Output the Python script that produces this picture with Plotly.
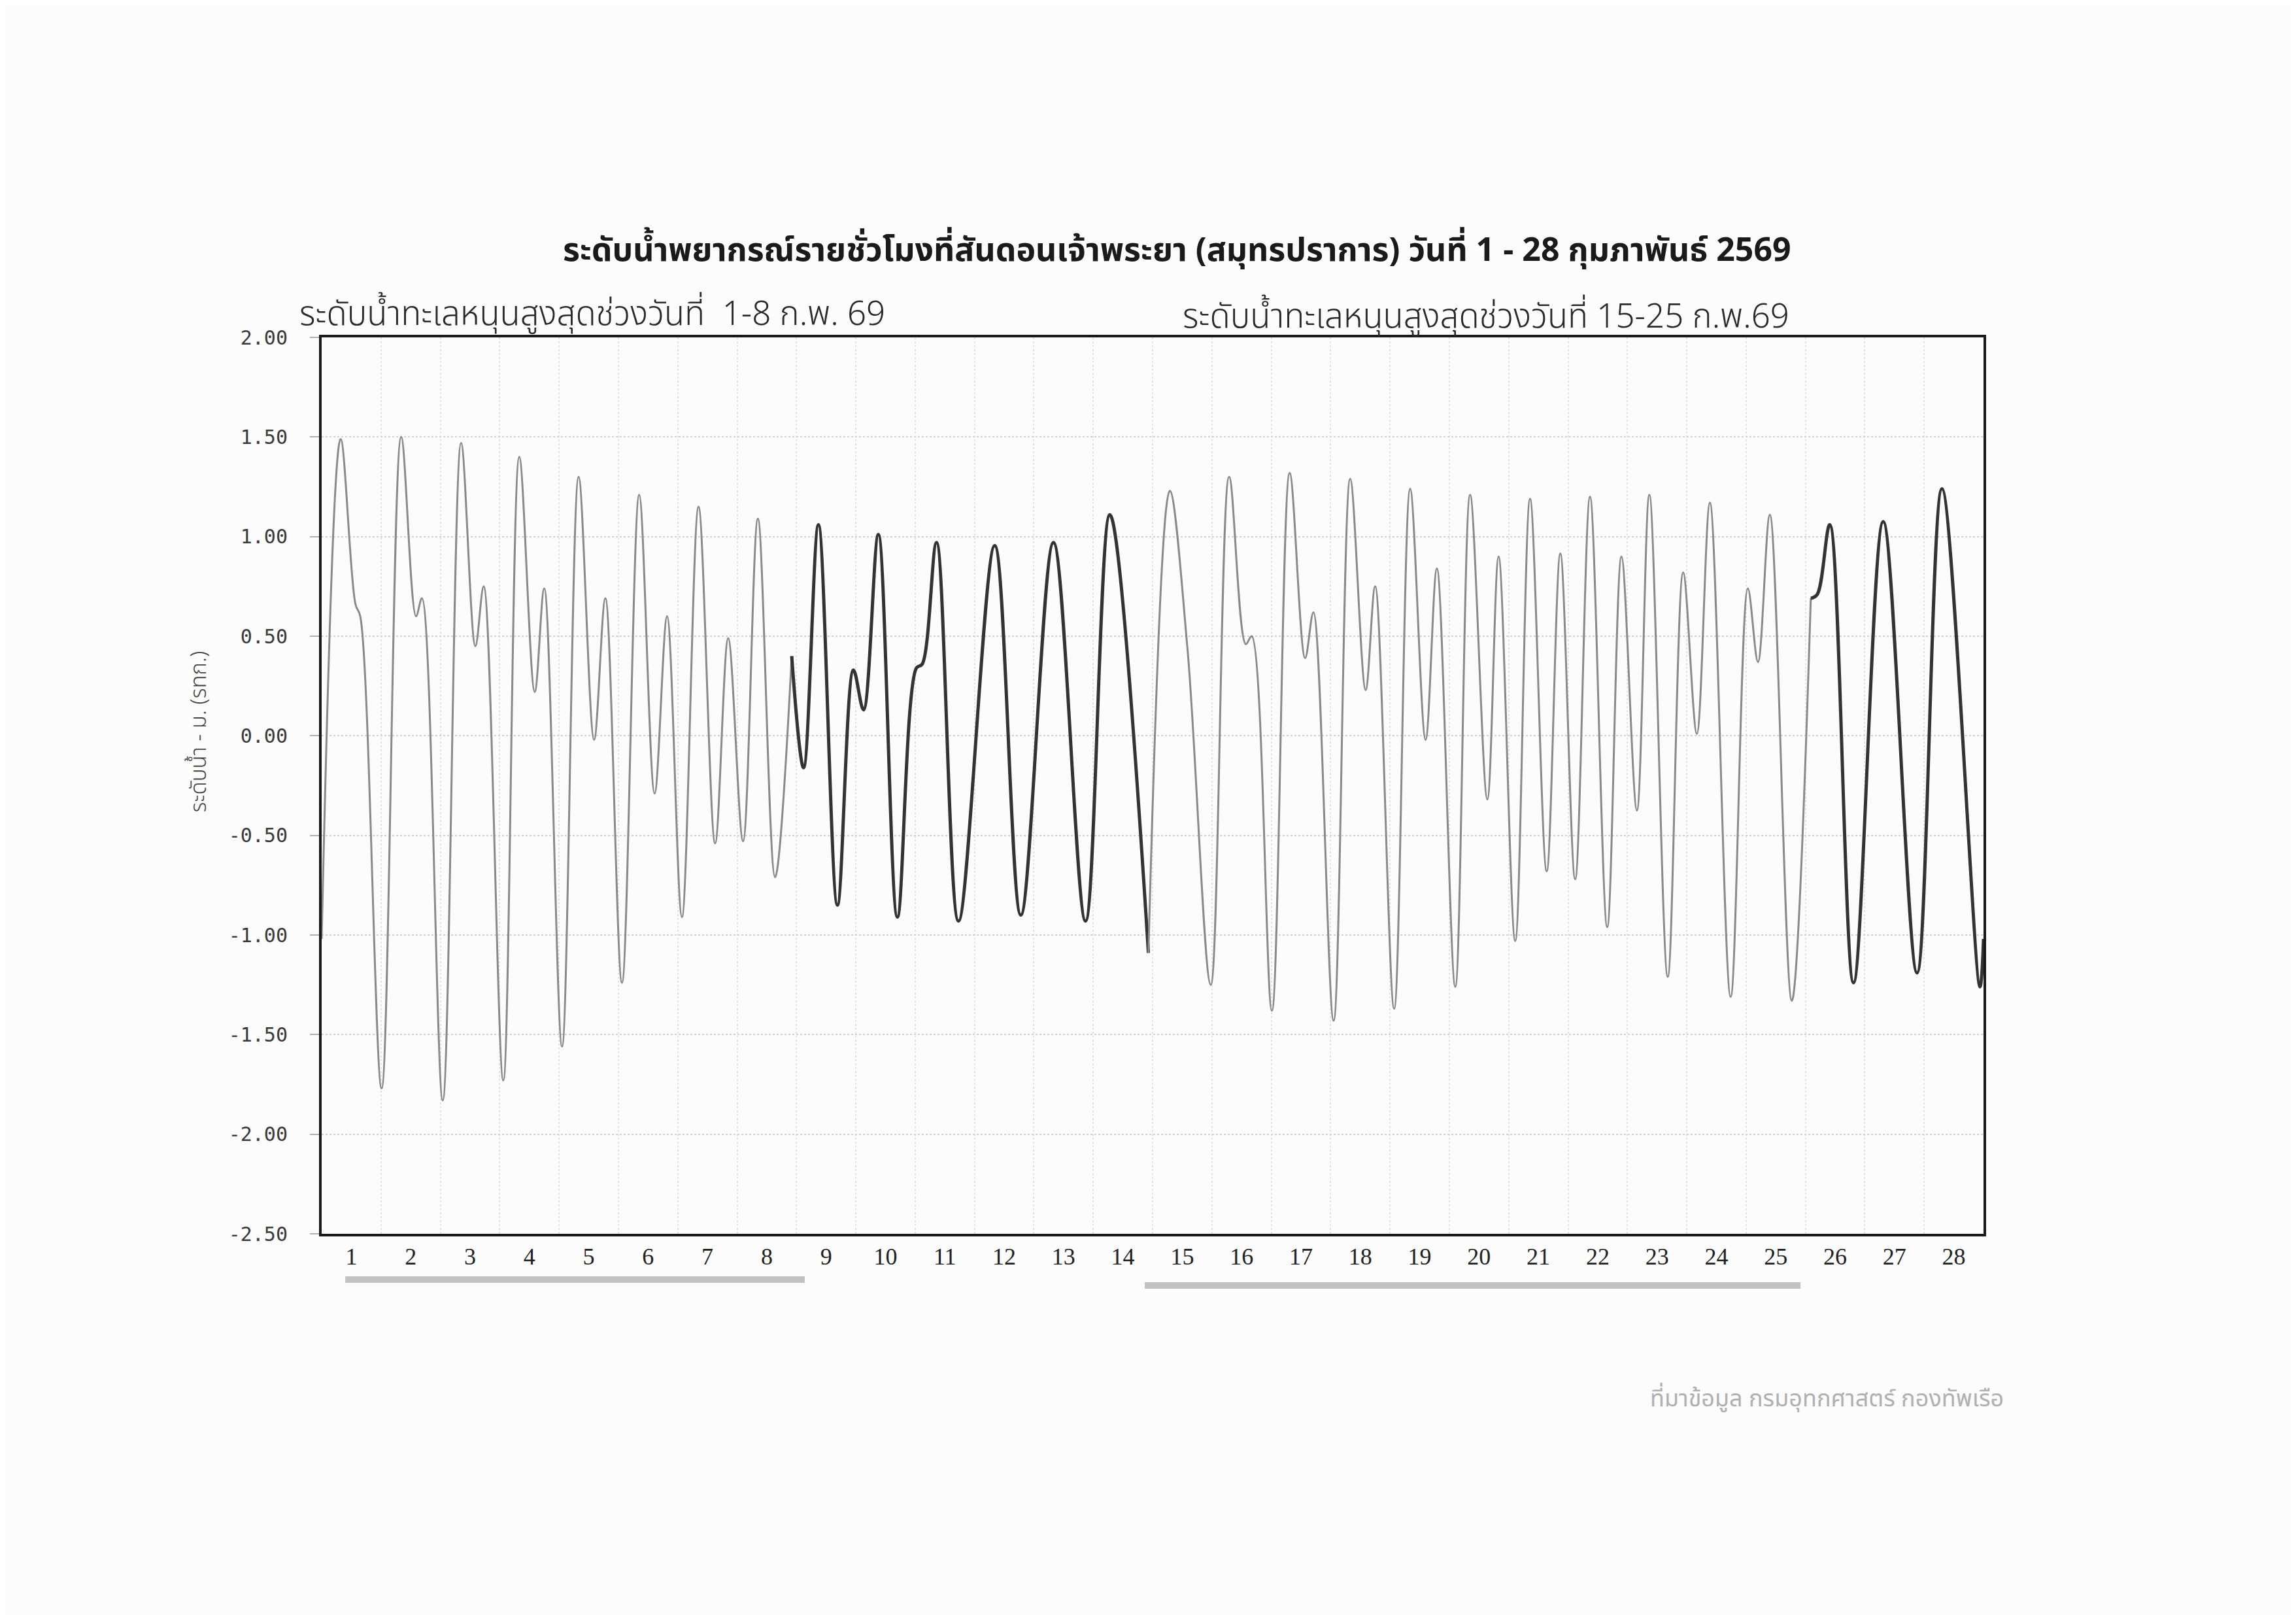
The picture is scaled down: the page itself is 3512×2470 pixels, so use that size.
import plotly.graph_objects as go

# ---- data: tide extremes / turning points (day-of-month time, metres) ----
days = [0.00, 0.32, 0.57, 0.65, 1.01, 1.34, 1.59, 1.69, 2.04, 2.35, 2.59, 2.73, 3.06,
        3.33, 3.59, 3.75, 4.05, 4.33, 4.59, 4.78, 5.06, 5.35, 5.61, 5.82, 6.07,
        6.35, 6.63, 6.85, 7.10, 7.35, 7.64, 7.92, 8.12, 8.37, 8.69, 8.96, 9.13,
        9.38, 9.70, 10.02, 10.12, 10.36, 10.73, 11.34, 11.78, 12.33, 12.87, 13.28,
        13.93, 14.29, 14.59, 14.98, 15.29, 15.57, 15.67, 16.01, 16.31, 16.57, 16.71,
        17.05, 17.33, 17.59, 17.75, 18.07, 18.34, 18.60, 18.79, 19.10, 19.35, 19.64,
        19.83, 20.11, 20.36, 20.64, 20.87, 21.12, 21.37, 21.66, 21.90, 22.16, 22.37,
        22.68, 22.94, 23.17, 23.39, 23.74, 24.03, 24.20, 24.40, 24.77, 25.09, 25.20,
        25.41, 25.81, 26.31, 26.88, 27.30, 27.94, 28.00]
level = [-1.02, 1.49, 0.66, 0.60, -1.77, 1.50, 0.60, 0.69, -1.83, 1.47, 0.45, 0.75, -1.73,
         1.40, 0.22, 0.74, -1.56, 1.30, -0.02, 0.69, -1.24, 1.21, -0.29, 0.60, -0.91,
         1.15, -0.54, 0.49, -0.53, 1.09, -0.71, 0.40, -0.16, 1.06, -0.85, 0.33, 0.13,
         1.01, -0.91, 0.34, 0.36, 0.97, -0.93, 0.955, -0.90, 0.97, -0.93, 1.11,
         -1.09, 1.23, 0.43, -1.25, 1.30, 0.46, 0.50, -1.38, 1.32, 0.39, 0.62,
         -1.43, 1.29, 0.23, 0.75, -1.37, 1.24, -0.02, 0.84, -1.26, 1.21, -0.32,
         0.90, -1.03, 1.19, -0.68, 0.915, -0.72, 1.20, -0.96, 0.90, -0.375, 1.21,
         -1.21, 0.82, 0.01, 1.17, -1.31, 0.74, 0.37, 1.11, -1.33, 0.69, 0.71,
         1.06, -1.24, 1.075, -1.19, 1.24, -1.26, -1.02]

# periods printed in the darker ink (start day, end day)
dark_spans = [(7.92, 13.93), (25.09, 28.00)]

day_labels = ["1", "2", "3", "4", "5", "6", "7", "8", "9", "10", "11", "12", "13", "14",
              "15", "16", "17", "18", "19", "20", "21", "22", "23", "24", "25", "26", "27", "28"]
y_ticks = [2.0, 1.5, 1.0, 0.5, 0.0, -0.5, -1.0, -1.5, -2.0, -2.5]

title_text = "ระดับน้ำพยากรณ์รายชั่วโมงที่สันดอนเจ้าพระยา (สมุทรปราการ) วันที่ 1 - 28 กุมภาพันธ์ 2569"
sub_left = "ระดับน้ำทะเลหนุนสูงสุดช่วงวันที่  1-8 ก.พ. 69"
sub_right = "ระดับน้ำทะเลหนุนสูงสุดช่วงวันที่ 15-25 ก.พ.69"
y_title = "ระดับน้ำ - ม. (รทก.)"
footer = "ที่มาข้อมูล กรมอุทกศาสตร์ กองทัพเรือ"

THAI = "Noto Sans Thai, Tahoma, Loma, Garuda, Norasi, sans-serif"

# ---- build segments ----
breaks = [0]
for a, b in dark_spans:
    breaks += [days.index(a), days.index(b)]
breaks.append(len(days) - 1)
breaks = sorted(set(breaks))

dark_starts = [days.index(a) for a, b in dark_spans]

fig = go.Figure()
for i in range(len(breaks) - 1):
    s, e = breaks[i], breaks[i + 1]
    is_dark = s in dark_starts
    fig.add_trace(go.Scatter(
        x=days[s:e + 1], y=level[s:e + 1], mode="lines",
        line=dict(shape="spline", smoothing=1.0,
                  color="#333333" if is_dark else "#8a8a8a",
                  width=5 if is_dark else 3),
        hoverinfo="skip"))

fig.update_layout(
    width=3512, height=2470,
    margin=dict(l=484, r=486, t=508, b=591),
    paper_bgcolor="#fcfcfc", plot_bgcolor="#fcfcfc",
    showlegend=False,
)

fig.update_xaxes(
    range=[0, 28], tickmode="array",
    tickvals=[i + 0.5 for i in range(len(day_labels))], ticktext=day_labels,
    showgrid=False, ticks="",
    minor=dict(tick0=0, dtick=1, showgrid=True, gridcolor="#e2e2e2",
               griddash="dot", gridwidth=2),
    showline=True, mirror=True, linecolor="#1a1a1a", linewidth=4,
    zeroline=False, automargin=False,
    tickfont=dict(family="Liberation Serif", size=36, color="#222222"),
)
fig.update_yaxes(
    range=[-2.5, 2.0], tickmode="array", tickvals=y_ticks,
    ticktext=[f"{v:.2f}" for v in y_ticks],
    showgrid=True, gridcolor="#d2d2d2", griddash="dot", gridwidth=2,
    ticks="outside", ticklen=14, tickcolor="#b0b0b0", tickwidth=2,
    ticklabelstandoff=28,
    showline=True, mirror=True, linecolor="#1a1a1a", linewidth=4,
    zeroline=False, automargin=False,
    tickfont=dict(family="DejaVu Sans Mono", size=30, color="#3a3a3a"),
)

fig.add_annotation(text=title_text, xref="paper", yref="paper", x=0.5146, y=1.0963,
                   xanchor="center", yanchor="middle", showarrow=False,
                   font=dict(family=THAI, size=50, color="#1a1a1a", weight="bold"))
fig.add_annotation(text=sub_left, xref="paper", yref="paper", x=-0.0142, y=1.0255,
                   xanchor="left", yanchor="middle", showarrow=False,
                   font=dict(family=THAI, size=51, color="#2a2a2a", weight=300))
fig.add_annotation(text=sub_right, xref="paper", yref="paper", x=0.5173, y=1.0226,
                   xanchor="left", yanchor="middle", showarrow=False,
                   font=dict(family=THAI, size=51, color="#2a2a2a", weight=300))
fig.add_annotation(text=y_title, xref="paper", yref="paper", x=-0.0735, y=0.560,
                   xanchor="center", yanchor="middle", showarrow=False, textangle=-90,
                   font=dict(family=THAI, size=33, color="#444444", weight=300))
fig.add_annotation(text=footer, xref="paper", yref="paper", x=0.9056, y=-0.1845,
                   xanchor="center", yanchor="middle", showarrow=False,
                   font=dict(family=THAI, size=36, color="#b0b0b0"))

# grey underline bars beneath the highlighted day ranges
fig.add_shape(type="rect", xref="paper", yref="paper", x0=0.0142, x1=0.2907,
              y0=-0.0547, y1=-0.0474, line=dict(width=0), fillcolor="#c2c2c2")
fig.add_shape(type="rect", xref="paper", yref="paper", x0=0.4953, x1=0.8899,
              y0=-0.0613, y1=-0.0540, line=dict(width=0), fillcolor="#c2c2c2")

fig.write_html("out.html")
